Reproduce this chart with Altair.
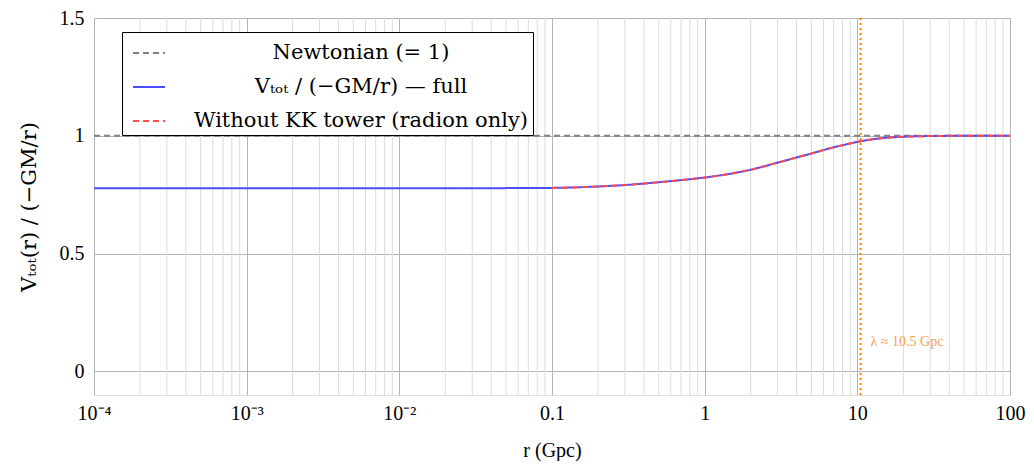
import altair as alt
import pandas as pd

# radius (Gpc) and normalised potential
r_full = [1e-4, 1e-3, 1e-2, 0.05, 0.1, 0.2, 0.3, 0.5, 0.7, 1, 1.5, 2, 3, 4, 5, 7, 8.5, 10.5, 14, 20, 30, 50, 100]
v_full = [0.777, 0.777, 0.777, 0.778, 0.779, 0.785, 0.791, 0.803, 0.812, 0.823, 0.840, 0.856, 0.886, 0.908,
          0.925, 0.951, 0.964, 0.977, 0.989, 0.996, 0.999, 1.0, 1.0]
r_radion = [0.1, 0.2, 0.3, 0.5, 0.7, 1, 1.5, 2, 3, 4, 5, 7, 8.5, 10.5, 14, 20, 30, 50, 100]
v_radion = [0.779, 0.785, 0.791, 0.803, 0.812, 0.823, 0.840, 0.856, 0.886, 0.908,
            0.925, 0.951, 0.964, 0.977, 0.989, 0.996, 0.999, 1.0, 1.0]
r_newton = [1e-4, 100]
v_newton = [1.0, 1.0]

series_names = ["Newtonian (= 1)", "Vₜₒₜ / (−GM/r) — full", "Without KK tower (radion only)"]
series_colors = ["#808080", "#4d4dff", "#ff4d4d"]
series_dash = [[6, 4], [1, 0], [6, 4]]

lam = 10.5
lam_label = "λ ≈ 10.5 Gpc"

major_ticks = [1e-4, 1e-3, 1e-2, 0.1, 1, 10, 100]
minor_ticks = [m * 10.0 ** e for e in range(-4, 2) for m in range(2, 10)]

rows = []
for name, rs, vs in [(series_names[0], r_newton, v_newton),
                     (series_names[1], r_full, v_full),
                     (series_names[2], r_radion, v_radion)]:
    for a, b in zip(rs, vs):
        rows.append({"r": a, "v": b, "series": name, "order": series_names.index(name)})
df = pd.DataFrame(rows)

FONT = "Liberation Serif"
FONT2 = "DejaVu Serif"
xscale = alt.Scale(type="log", domain=[1e-4, 100], nice=False)
yscale = alt.Scale(domain=[-0.1, 1.5], nice=False, zero=False)

label_expr = ("datum.value < 0.0005 ? '10⁻⁴' : datum.value < 0.005 ? '10⁻³' : "
              "datum.value < 0.05 ? '10⁻²' : datum.value < 0.5 ? '0.1' : "
              "datum.value < 5 ? '1' : datum.value < 50 ? '10' : '100'")

minor = alt.Chart(pd.DataFrame({"r": minor_ticks})).mark_rule(
    color="#dcdcdc", strokeWidth=1
).encode(x=alt.X("r:Q", scale=xscale))

lines = alt.Chart(df).mark_line(strokeWidth=2, interpolate="monotone").encode(
    x=alt.X("r:Q", scale=xscale,
            axis=alt.Axis(values=major_ticks, labelExpr=label_expr, title="r (Gpc)",
                          grid=True, gridColor="#b4b4b4", ticks=False, domain=False,
                          labelFont=FONT, labelFontSize=20, labelPadding=8,
                          titleFont=FONT, titleFontSize=20, titleFontWeight="normal",
                          titlePadding=17, labelFlush=False)),
    y=alt.Y("v:Q", scale=yscale,
            axis=alt.Axis(values=[0, 0.5, 1, 1.5], format="~g", title="Vₜₒₜ(r)   /   (−GM/r)",
                          grid=True, gridColor="#b4b4b4", ticks=False, domain=False,
                          labelFont=FONT, labelFontSize=20, labelPadding=10,
                          titleFont=FONT2, titleFontSize=21, titleFontWeight="normal",
                          titlePadding=20)),
    color=alt.Color("series:N", scale=alt.Scale(domain=series_names, range=series_colors),
                    legend=alt.Legend(title=None, orient="none", legendX=28, legendY=14,
                                      strokeColor="black", fillColor="white", padding=4,
                                      labelFont=FONT2, labelFontSize=21, symbolType="stroke",
                                      symbolSize=1024, symbolStrokeWidth=2, rowPadding=7,
                                      symbolOffset=6,
                                      labelAlign="center", labelOffset=195, labelLimit=600)),
    strokeDash=alt.StrokeDash("series:N", scale=alt.Scale(domain=series_names, range=series_dash),
                              legend=None),
    order="order:Q",
)

lam_df = pd.DataFrame({"r": [lam], "v": [0.127], "label": [lam_label]})
vline = alt.Chart(lam_df).mark_rule(color="#ff8000", strokeWidth=2, strokeDash=[2, 3]).encode(
    x=alt.X("r:Q", scale=xscale))
vtext = alt.Chart(lam_df).mark_text(color="#f5a04a", font=FONT, fontSize=14, align="left",
                                    baseline="middle", dx=10).encode(
    x=alt.X("r:Q", scale=xscale), y=alt.Y("v:Q", scale=yscale), text="label:N")

chart = alt.layer(minor, lines, vline, vtext).properties(
    width=916, height=377,
    autosize=alt.AutoSizeParams(type="none"),
    padding={"left": 86, "top": 10, "right": 16, "bottom": 66},
).configure_view(stroke="black", strokeWidth=1.5).configure(background="white")

chart.save("out.html", embed_options={"renderer": "svg", "actions": False})
